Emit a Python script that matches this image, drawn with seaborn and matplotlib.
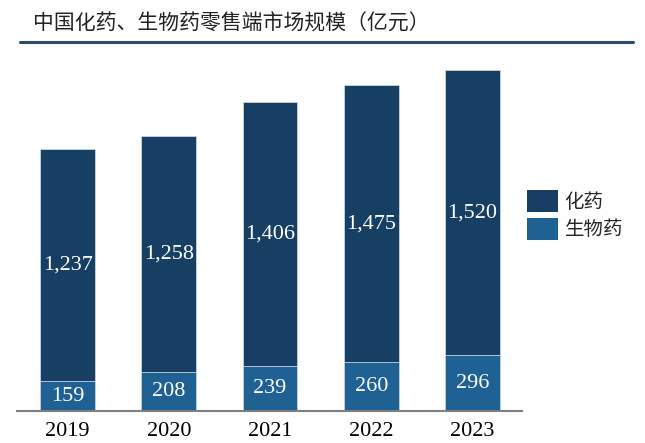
import pandas as pd
import matplotlib.pyplot as plt
import seaborn as sns
from matplotlib.patches import Patch
from matplotlib.lines import Line2D

sns.set_theme(style="white")
plt.rcParams['font.family'] = ['Liberation Serif', 'Noto Sans CJK SC', 'DejaVu Sans']

# data
years = ['2019', '2020', '2021', '2022', '2023']
chem = [1237, 1258, 1406, 1475, 1520]   # 化药
bio = [159, 208, 239, 260, 296]         # 生物药

dark = '#163F63'
light = '#1F6193'

df = pd.DataFrame({'year': years, 'chem': chem, 'bio': bio})
df['total'] = df['chem'] + df['bio']

fig = plt.figure(figsize=(6.45, 4.43), dpi=100)
ax = fig.add_axes([17 / 645, 32 / 443, 505 / 645, 352 / 443])

# stacked look: totals in dark, bio layer drawn over the bottom
sns.barplot(data=df, x='year', y='total', color=dark, width=0.54,
            edgecolor='#c9d5e1', linewidth=0.6, saturation=1, ax=ax)
sns.barplot(data=df, x='year', y='bio', color=light, width=0.54,
            edgecolor='#c9d5e1', linewidth=0.6, saturation=1, ax=ax)

for i, row in df.iterrows():
    ax.text(i, row['bio'] / 2, f"{row['bio']:,}", ha='center', va='center',
            color='white', fontsize=16)
    ax.text(i, row['bio'] + row['chem'] / 2, f"{row['chem']:,}", ha='center',
            va='center', color='white', fontsize=16)

ax.set_xlim(-0.5, 4.49)
ax.set_ylim(0, 1875)
ax.set_xlabel('')
ax.set_ylabel('')
ax.set_yticks([])
ax.tick_params(axis='x', length=0, labelsize=16, pad=8, labelcolor='black')
for s in ['top', 'right', 'left']:
    ax.spines[s].set_visible(False)
ax.spines['bottom'].set_color('#7f7f7f')
ax.spines['bottom'].set_linewidth(1.5)

# title with rule underneath
fig.text(33 / 645, 1 - 24 / 443, '中国化药、生物药零售端市场规模（亿元）',
         ha='left', va='center', fontsize=15, color='#222222')
fig.add_artist(Line2D([20 / 645, 633 / 645], [1 - 42 / 443, 1 - 42 / 443],
                      color='#2B4C6E', linewidth=2.2, transform=fig.transFigure))

handles = [Patch(facecolor=dark, edgecolor='none'), Patch(facecolor=light, edgecolor='none')]
fig.legend(handles, ['化药', '生物药'], loc='center left',
           bbox_to_anchor=(509 / 645, 1 - 215 / 443), frameon=False,
           fontsize=14, handlelength=1.6, handleheight=1.35,
           handletextpad=0.35, labelspacing=0.3)

plt.savefig('out.png', dpi=100)
